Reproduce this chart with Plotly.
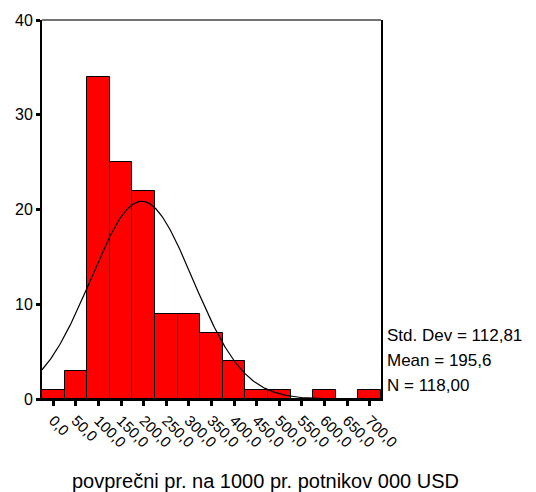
import numpy as np
import plotly.graph_objects as go

# Histogram bins (midpoints, width 50) and frequencies
bin_centers = [0, 50, 100, 150, 200, 250, 300, 350, 400, 450, 500, 550, 600, 650, 700]
counts = [1, 3, 34, 25, 22, 9, 9, 7, 4, 1, 1, 0, 1, 0, 1]
bin_width = 50

tick_labels = ["0,0", "50,0", "100,0", "150,0", "200,0", "250,0", "300,0", "350,0",
               "400,0", "450,0", "500,0", "550,0", "600,0", "650,0", "700,0"]

# Summary statistics shown beside the chart
std_dev = 112.81
mean = 195.6
n_obs = 118.00

FONT = "Arial, Liberation Sans, sans-serif"


def decimal_comma(value, digits):
    return f"{value:.{digits}f}".replace(".", ",")


# Fitted normal curve scaled to histogram counts
xs = np.linspace(-25, 725, 400)
ys = n_obs * bin_width / (std_dev * np.sqrt(2 * np.pi)) * np.exp(-0.5 * ((xs - mean) / std_dev) ** 2)

fig = go.Figure()
fig.add_trace(go.Bar(
    x=bin_centers, y=counts, width=bin_width,
    marker=dict(color="#ff0000", line=dict(color="#000000", width=1)),
    hoverinfo="x+y",
))
fig.add_trace(go.Scatter(
    x=xs, y=ys, mode="lines",
    line=dict(color="#000000", width=1.2),
    hoverinfo="skip",
))

fig.update_layout(
    width=536, height=492,
    margin=dict(l=42, r=155, t=17, b=93),
    paper_bgcolor="white", plot_bgcolor="white",
    showlegend=False, bargap=0,
    font=dict(family=FONT, color="#000000"),
    xaxis=dict(
        range=[-25, 725], tickmode="array", tickvals=bin_centers, ticktext=tick_labels,
        tickangle=45, tickfont=dict(size=15, family=FONT),
        ticks="outside", ticklen=5, tickwidth=3, tickcolor="#000000",
        showline=True, linecolor="#000000", linewidth=2, mirror=False,
        showgrid=False, zeroline=False,
    ),
    yaxis=dict(
        range=[0, 40], tickvals=[0, 10, 20, 30, 40],
        tickfont=dict(size=16, family=FONT),
        ticks="outside", ticklen=4, tickwidth=3, tickcolor="#000000",
        showline=True, linecolor="#000000", linewidth=2, mirror=True,
        showgrid=False, zeroline=False,
    ),
    shapes=[dict(type="line", xref="paper", yref="paper", x0=0, x1=1, y0=1, y1=1,
                 line=dict(color="#444444", width=1.5))],
)

stats_lines = [
    (f"Std. Dev = {decimal_comma(std_dev, 2)}", 0.1675),
    (f"Mean = {decimal_comma(mean, 1)}", 0.102),
    (f"N = {decimal_comma(n_obs, 2)}", 0.0366),
]
for text, ypos in stats_lines:
    fig.add_annotation(text=text, xref="paper", yref="paper", x=1, xshift=4, y=ypos,
                       xanchor="left", yanchor="middle", showarrow=False,
                       font=dict(size=17, family=FONT, color="#000000"))

fig.add_annotation(text="povprečni pr. na 1000 pr. potnikov 000 USD",
                   xref="paper", yref="paper", x=0.659, y=-0.217,
                   xanchor="center", yanchor="middle", showarrow=False,
                   font=dict(size=20, family=FONT, color="#000000"))

fig.write_html("out.html")
